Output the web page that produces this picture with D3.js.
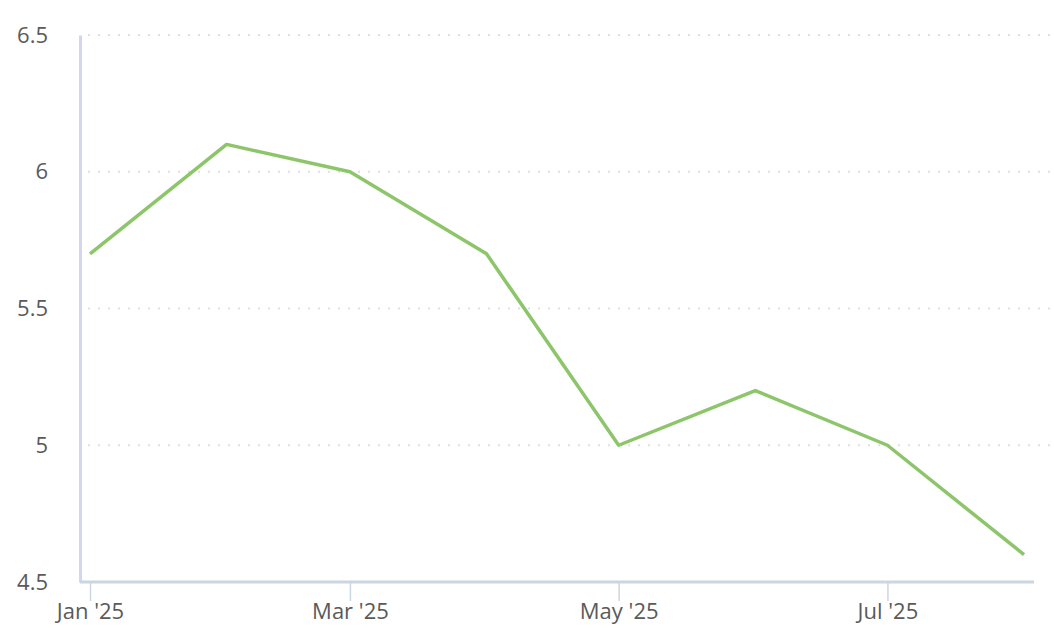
<!DOCTYPE html>
<html>
<head>
<meta charset="utf-8">
<script src="https://cdn.jsdelivr.net/npm/d3@7"></script>
<style>
  body { margin: 0; background: #fff; }
  svg text { font-family: "Open Sans", sans-serif; }
</style>
</head>
<body>
<div id="chart"></div>
<script>
// monthly values, 2025
const months = ["2025-01-01", "2025-02-01", "2025-03-01", "2025-04-01",
                "2025-05-01", "2025-06-01", "2025-07-01", "2025-08-01"];
const values = [5.7, 6.1, 6.0, 5.7, 5.0, 5.2, 5.0, 4.6];
const yTicks = [4.5, 5, 5.5, 6, 6.5];
const xTicks = ["2025-01-01", "2025-03-01", "2025-05-01", "2025-07-01"];

const width = 1054, height = 642;
const parse = d3.utcParse("%Y-%m-%d");
const data = months.map((m, i) => ({date: parse(m), value: values[i]}));

const svg = d3.select("#chart").append("svg")
    .attr("width", width)
    .attr("height", height);

const x = d3.scaleUtc()
    .domain(d3.extent(data, d => d.date))
    .range([90, 1024]);
const y = d3.scaleLinear()
    .domain([4.5, 6.5])
    .range([582, 35]);

// grid
svg.append("g")
    .selectAll("line")
    .data(yTicks.slice(1))
    .join("line")
    .attr("x1", 88).attr("x2", width)
    .attr("y1", d => y(d)).attr("y2", d => y(d))
    .attr("stroke", "#e0e0e0")
    .attr("stroke-width", 2)
    .attr("stroke-dasharray", "2,8");

// y axis
const yAxis = svg.append("g")
    .attr("transform", "translate(80,0)")
    .call(d3.axisLeft(y).tickValues(yTicks).tickSize(0).tickPadding(32).tickFormat(d3.format("")));
yAxis.select(".domain").attr("stroke", "#d3d6ee").attr("stroke-width", 3);
yAxis.selectAll("text").attr("font-size", 22).attr("fill", "#5a5a5a");

// x axis
const xAxis = svg.append("g")
    .attr("transform", "translate(0,582)")
    .call(d3.axisBottom(x)
        .tickValues(xTicks.map(parse))
        .tickSize(19)
        .tickPadding(2)
        .tickFormat(d3.utcFormat("%b '%y")));
xAxis.select(".domain")
    .attr("d", "M80,0H1034")
    .attr("stroke", "#ccd6e0").attr("stroke-width", 3);
xAxis.selectAll(".tick line").attr("stroke", "#ccd6e0").attr("stroke-width", 1.5);
xAxis.selectAll("text").attr("font-size", 22).attr("fill", "#5a5a5a");

// line
svg.append("path")
    .datum(data)
    .attr("fill", "none")
    .attr("stroke", "#8dc56a")
    .attr("stroke-width", 3.5)
    .attr("stroke-linejoin", "round")
    .attr("d", d3.line().x(d => x(d.date)).y(d => y(d.value)));
</script>
</body>
</html>
